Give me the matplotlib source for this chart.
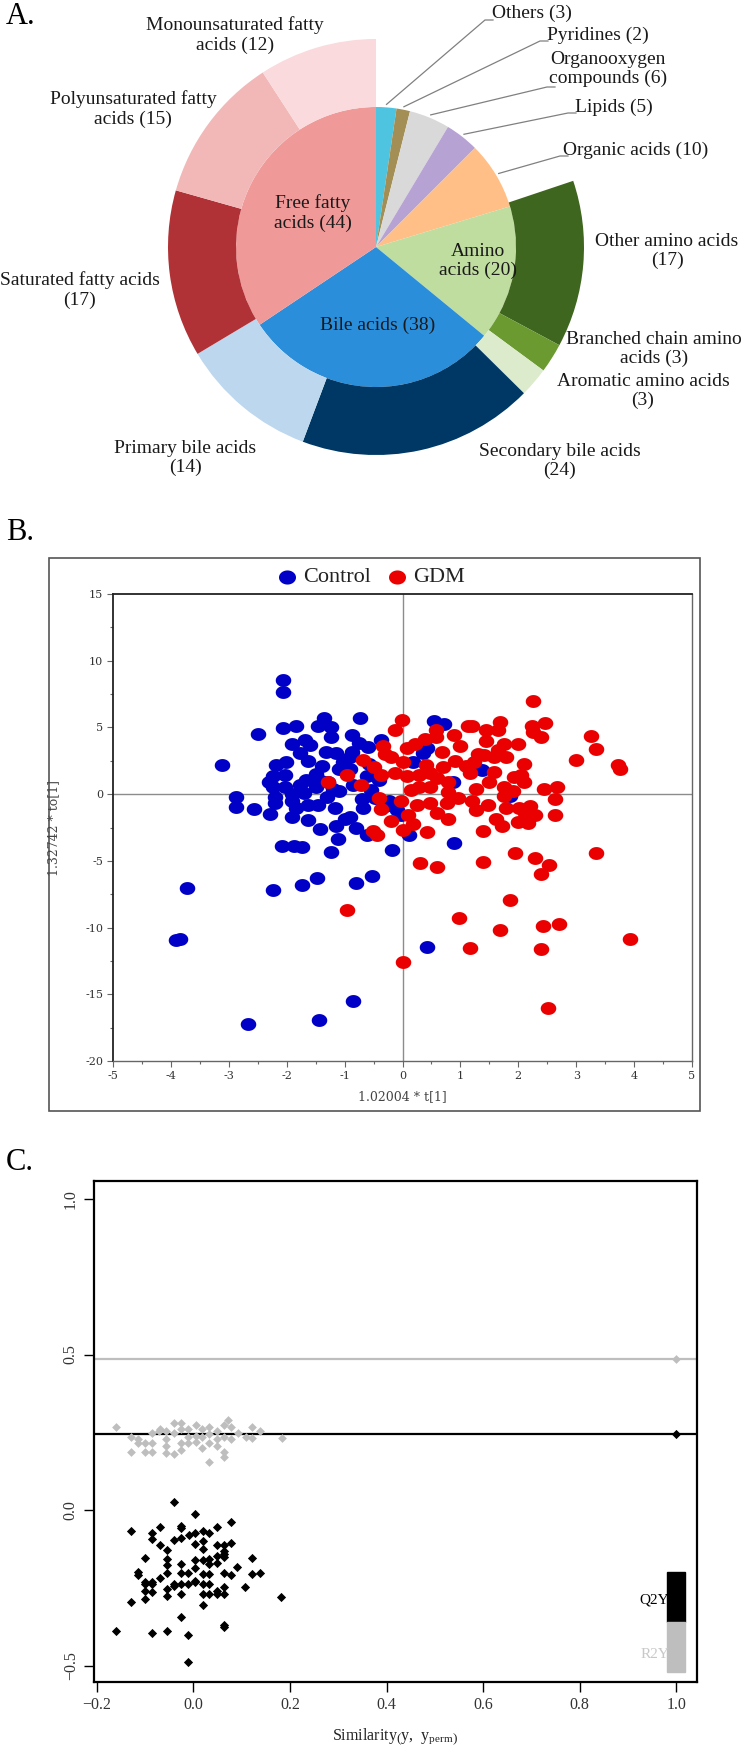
import numpy as np
import matplotlib.pyplot as plt
from matplotlib.patches import Rectangle
from matplotlib.path import Path

plt.rcParams['font.family'] = ['Liberation Serif', 'DejaVu Serif']
plt.rcParams['mathtext.fontset'] = 'custom'
plt.rcParams['mathtext.rm'] = 'Liberation Serif'

W, H = 744, 1750

# ---------------- A. data ----------------
inner_labels = ["Others (3)", "Pyridines (2)", "Organooxygen\ncompounds (6)", "Lipids (5)",
                "Organic acids (10)", "Amino\nacids (20)", "Bile acids (38)", "Free fatty\nacids (44)"]
inner_vals = [3, 2, 6, 5, 10, 20, 38, 44]
inner_colors = ["#4FC4E0", "#A38F55", "#D9D9D9", "#B7A2D4", "#FFBF87", "#C0DDA0", "#2A8EDB", "#EF9A98"]

outer_labels = ["Other amino acids\n(17)", "Branched chain amino\nacids (3)", "Aromatic amino acids\n(3)",
                "Secondary bile acids\n(24)", "Primary bile acids\n(14)", "Saturated fatty acids\n(17)",
                "Polyunsaturated fatty\nacids (15)", "Monounsaturated fatty\nacids (12)"]
outer_vals = [17, 3, 3, 24, 14, 17, 15, 12]
outer_colors = ["#3F661E", "#6A9A30", "#DCEBCB", "#003865", "#BDD7EE", "#B03236", "#F2B8B8", "#FADADC"]

# ---------------- B. data (OPLS-DA scores) ----------------
control_x = [-2.06, -2.06, -0.73, -1.36, -1.46, -1.84, -2.06, -2.49, -3.12, -1.24, -1.24, -0.88, -1.68,
             -1.90, -0.75, -0.37, -1.32, -1.15, -0.88, -1.77, -2.18, -2.01, -1.63, -1.39, -1.02, -0.57,
             0.18, 0.42, 0.55, 0.72, 1.37, -2.24, -2.03, -2.24, -2.03, -1.77, -1.67, -1.49, -1.29, -1.09,
             -0.85, -0.61, -0.40, -2.87, -2.87, -2.57, -2.28, -2.21, -1.90, -1.90, -1.84, -1.63, -1.63,
             -1.46, -1.43, -1.17, -1.15, -1.12, -0.91, -0.68, -0.47, -0.23, -0.03, -0.61, 0.11, -2.08,
             -1.87, -1.74, -1.24, -0.18, 0.89, 1.85, -3.73, -2.23, -1.73, -1.47, -0.81, -0.53, -3.92,
             -3.85, 0.42, -2.67, -1.44, -0.85, -1.50, -1.90, -1.30, -0.90, -0.60, -2.30, -1.00, -0.80,
             -0.55, -0.30, -0.90, -1.60, -2.20, -1.10, -0.10, 0.88, -1.70, -1.20, -0.70, -1.40, 0.36]
control_y = [8.57, 7.67, 5.67, 5.72, 5.11, 5.14, 4.92, 4.52, 2.18, 5.06, 4.26, 4.42, 4.05,
             3.73, 3.86, 4.05, 3.19, 3.06, 3.19, 3.06, 2.18, 2.40, 2.45, 2.13, 2.40, 2.26,
             2.40, 3.46, 5.46, 5.27, 1.81, 1.33, 1.46, 0.53, 0.53, 0.67, 1.06, 0.53, 0.93, 0.27,
             0.67, 1.33, 1.06, -0.21, -0.93, -1.14, -1.46, -0.67, -0.53, -1.73, -1.06, -0.80, -1.94,
             -0.80, -2.61, -1.06, -2.40, -3.33, -1.73, -1.06, -0.27, -0.53, -1.60, -3.06, -3.06, -3.86,
             -3.86, -3.94, -4.31, -4.21, -3.67, -0.13, -7.05, -7.19, -6.81, -6.31, -6.65, -6.12, -10.91,
             -10.88, -11.45, -17.22, -16.90, -15.52, 1.50, 0.00, -0.20, 2.80, 3.50, 0.90, -1.90, -2.50,
             0.30, -0.90, 1.90, 3.70, -0.20, 1.90, -1.20, 0.90, 0.10, 0.40, -0.40, 1.00, 3.10]

gdm_x = [2.26, -0.01, -0.13, 0.57, 0.57, 0.89, 1.13, 1.20, 1.44, 1.68, 1.65, 2.23, 2.46, 2.26, 2.40,
         3.26, 3.34, 3.00, 3.73, 3.76, 1.44, 1.75, 1.99, 2.09, 2.05, 1.92, 1.78, 1.58, 1.58, 1.17,
         1.24, 1.00, 0.69, 0.38, 0.21, 0.08, -0.33, -0.30, -0.68, -1.29, -0.95, -0.71, -0.37, -0.13,
         0.08, 0.28, 0.48, 0.59, 0.79, 0.48, 0.28, 0.79, 1.27, 1.20, 1.75, 1.75, 2.44, 2.67, 2.64,
         1.27, 1.47, 1.78, 2.02, 2.12, 2.29, 2.64, 1.99, 2.16, 1.61, 1.72, 0.79, 0.76, 0.48, 0.25,
         -0.03, -0.40, -0.37, -0.20, 0.18, 0.01, 0.42, -0.51, -0.44, 1.39, 1.95, 2.29, 2.53, 2.40,
         3.34, 1.39, 0.31, 0.60, 1.86, -0.95, 0.98, 1.68, 2.43, 2.70, 3.93, 1.17, 2.40, 0.01, 2.51,
         0.90, 1.30, 0.40, 0.00, -0.20, -0.50, 0.70, 1.10, 1.50, 2.10, 1.90, 2.20, 0.10, 0.60, 1.40,
         1.65, 0.15, 0.95]
gdm_y = [6.97, 5.54, 4.79, 4.84, 4.26, 4.47, 5.11, 5.11, 4.79, 5.38, 4.84, 5.11, 5.32, 4.66, 4.26,
         4.39, 3.41, 2.53, 2.18, 1.86, 3.99, 3.73, 3.73, 2.26, 1.46, 1.28, 2.79, 2.79, 1.65, 1.60,
         2.40, 3.59, 3.19, 4.13, 3.73, 3.46, 3.59, 2.98, 2.53, 0.88, 1.41, 0.67, 1.46, 1.60,
         1.33, 1.46, 1.60, 1.20, 0.93, 0.53, 0.53, 0.13, 0.40, -0.53, 0.53, -0.13, 0.40, 0.53, -0.40,
         -1.20, -0.80, -1.06, -1.06, -1.38, -1.60, -1.60, -2.08, -2.18, -1.86, -2.40, -1.86, -0.67,
         -0.67, -0.80, -0.53, -0.27, -1.14, -2.00, -2.26, -2.66, -2.87, -2.79, -3.06, -2.79, -4.39,
         -4.79, -5.32, -5.99, -4.39, -5.06, -5.19, -5.46, -7.93, -8.70, -9.26, -10.19, -9.85, -9.72,
         -10.83, -11.52, -11.58, -12.56, -16.02, 2.50, 3.00, 2.20, 2.40, 2.80, 2.00, 2.00, 2.10, 0.90,
         0.90, 0.20, -0.90, -1.60, -1.40, 2.90, 3.30, 0.30, -0.30]

b_xticks = [-5, -4, -3, -2, -1, 0, 1, 2, 3, 4, 5]
b_yticks = [-20, -15, -10, -5, 0, 5, 10, 15]

# ---------------- C. data (permutation test) ----------------
q2y_x = [-0.041, 0.003, -0.130, -0.085, -0.085, -0.070, -0.026, -0.026, -0.010, 0.003, 0.019, 0.033,
         0.048, 0.077, -0.041, -0.026, 0.003, 0.019, 0.019, -0.070, -0.055, 0.048, 0.063, 0.077,
         0.063, 0.063, -0.101, -0.055, -0.055, -0.026, 0.003, 0.019, 0.033, 0.033, 0.048, 0.048,
         0.063, 0.122, 0.091, -0.115, -0.115, -0.070, -0.055, -0.026, -0.011, 0.003, 0.019, 0.033,
         0.063, 0.077, 0.122, 0.137, -0.101, -0.085, -0.101, -0.085, -0.041, -0.041, -0.026, -0.012,
         0.003, 0.003, 0.019, 0.033, 0.063, 0.107, -0.101, -0.085, -0.055, -0.055, -0.026, 0.019,
         0.033, 0.048, 0.048, 0.063, 0.181, -0.130, -0.101, 0.019, -0.026, 0.063, 0.063, -0.160,
         -0.085, -0.055, -0.011, -0.011]
q2y_y = [0.025, -0.013, -0.068, -0.074, -0.093, -0.055, -0.052, -0.058, -0.079, -0.074, -0.068, -0.074,
         -0.054, -0.039, -0.095, -0.090, -0.109, -0.100, -0.125, -0.114, -0.127, -0.111, -0.114, -0.107,
         -0.132, -0.143, -0.155, -0.159, -0.178, -0.173, -0.162, -0.162, -0.157, -0.175, -0.148, -0.170,
         -0.150, -0.155, -0.183, -0.199, -0.210, -0.217, -0.201, -0.201, -0.201, -0.186, -0.207, -0.205,
         -0.201, -0.209, -0.207, -0.201, -0.230, -0.230, -0.239, -0.239, -0.237, -0.244, -0.239, -0.237,
         -0.228, -0.233, -0.239, -0.237, -0.246, -0.247, -0.260, -0.265, -0.255, -0.276, -0.269, -0.271,
         -0.271, -0.260, -0.271, -0.271, -0.281, -0.295, -0.287, -0.306, -0.345, -0.370, -0.375, -0.388,
         -0.396, -0.388, -0.402, -0.489]
r2y_x = [-0.160, -0.129, -0.129, -0.115, -0.115, -0.100, -0.100, -0.086, -0.086, -0.086, -0.070, -0.056,
         -0.056, -0.056, -0.056, -0.041, -0.041, -0.041, -0.025, -0.025, -0.025, -0.025, -0.011, -0.011,
         0.005, 0.005, 0.005, 0.018, 0.018, 0.018, 0.033, 0.033, 0.033, 0.033, 0.048, 0.048, 0.048,
         0.063, 0.063, 0.063, 0.063, 0.077, 0.077, 0.093, 0.109, 0.122, 0.122, 0.138, 0.183, 0.072,
         -0.072, -0.012]
r2y_y = [0.268, 0.234, 0.186, 0.227, 0.216, 0.216, 0.186, 0.216, 0.186, 0.247, 0.261, 0.254,
         0.227, 0.207, 0.184, 0.281, 0.247, 0.180, 0.281, 0.261, 0.214, 0.193, 0.234, 0.214,
         0.274, 0.238, 0.220, 0.261, 0.234, 0.200, 0.268, 0.243, 0.216, 0.155, 0.254, 0.227, 0.207,
         0.274, 0.234, 0.186, 0.169, 0.268, 0.227, 0.247, 0.234, 0.268, 0.230, 0.254, 0.230, 0.288,
         0.254, 0.261]
r2y_orig = 0.486
q2y_orig = 0.244
c_xticks = [-0.2, 0.0, 0.2, 0.4, 0.6, 0.8, 1.0]
c_yticks = [-0.5, 0.0, 0.5, 1.0]

fig = plt.figure(figsize=(W / 100, H / 100), dpi=100)

# overlay axes in pixel coords (y down)
ax0 = fig.add_axes([0, 0, 1, 1])
ax0.set_xlim(0, W)
ax0.set_ylim(H, 0)

# ---- A. sunburst ----
cx, cy, r_in, r_out = 376, 247, 140, 208
ax0.pie(inner_vals, colors=inner_colors, radius=r_in, center=(cx, cy), startangle=-90,
        counterclock=True, wedgeprops=dict(linewidth=0))
gap = sum(inner_vals[:5])
ax0.pie([gap] + outer_vals, colors=['none'] + outer_colors, radius=r_out, center=(cx, cy),
        startangle=-90, counterclock=True, wedgeprops=dict(width=r_out - r_in, linewidth=0))
ax0.set_xlim(0, W)
ax0.set_ylim(H, 0)
ax0.set_aspect('auto')
ax0.axis('off')

fs = 14
tc = '#1a1a1a'
# labels inside
ax0.text(313, 213, inner_labels[7], ha='center', va='center', fontsize=fs, color=tc, linespacing=1.15)
ax0.text(378, 325, inner_labels[6], ha='center', va='center', fontsize=fs, color=tc)
ax0.text(478, 261, inner_labels[5], ha='center', va='center', fontsize=fs, color=tc, linespacing=1.15)

# small slices with leader lines
total = sum(inner_vals)
cum = np.cumsum([0] + inner_vals)
txt_pos = [(492, 13, 'left'), (547, 35, 'left'), (608, 69, 'center'), (575, 107, 'left'), (563, 150, 'left')]
line_end = [(485, 20), (540, 41), (547, 87), (568, 113), (560, 156)]
for i in range(5):
    phi = np.deg2rad((cum[i] + inner_vals[i] / 2) / total * 360)
    sx, sy = cx + (r_in + 3) * np.sin(phi), cy - (r_in + 3) * np.cos(phi)
    ex, ey = line_end[i]
    ax0.plot([sx, ex, ex + 8], [sy, ey, ey], color='#808080', lw=0.9)
    tx, ty, ha = txt_pos[i]
    ax0.text(tx, ty, inner_labels[i], ha=ha, va='center', fontsize=fs, color=tc, linespacing=1.15)

outer_pos = [(667, 251), (654, 349), (643, 391), (560, 461), (185, 458), (80, 290), (133, 109), (235, 35)]
for lab, (tx, ty) in zip(outer_labels, outer_pos):
    ax0.text(tx, ty, lab, ha='center', va='center', fontsize=fs, color=tc, linespacing=1.15)

# panel letters
for lab, yy in [("A.", 16), ("B.", 533), ("C.", 1162)]:
    ax0.text(6, yy, lab, ha='left', va='center', fontsize=22, color='black')

# ---- B. outer frame and legend ----
ax0.add_patch(Rectangle((49, 558), 700 - 49, 1111 - 558, fill=False, ec='#555555', lw=1.2))
t = np.linspace(0, 2 * np.pi, 64)
ell = Path(np.column_stack([np.cos(t), 0.83 * np.sin(t)]), closed=True)
blue, red = '#0000C6', '#EA0000'
ax0.scatter([287], [577], marker=ell, s=150, color=blue, linewidths=0)
ax0.text(303, 577, "Control", ha='left', va='center', fontsize=16, color='#222222')
ax0.scatter([397], [577], marker=ell, s=150, color=red, linewidths=0)
ax0.text(413, 577, "GDM", ha='left', va='center', fontsize=16, color='#222222')

# ---- B. scatter ----
axb = fig.add_axes([113 / W, 1 - 1061 / H, (692 - 113) / W, (1061 - 594) / H])
axb.axvline(0, color='#8c8c8c', lw=1, zorder=1)
axb.axhline(0, color='#8c8c8c', lw=1, zorder=1)
axb.scatter(control_x, control_y, marker=ell, s=125, color=blue, linewidths=0, zorder=2)
axb.scatter(gdm_x, gdm_y, marker=ell, s=125, color=red, linewidths=0, zorder=3)
axb.set_xlim(-5, 5)
axb.set_ylim(-20, 15)
axb.set_xticks(b_xticks)
axb.set_xticklabels([str(v) for v in b_xticks])
axb.set_yticks(b_yticks)
axb.set_yticklabels([str(v) for v in b_yticks])
axb.set_xticks(np.arange(-4.5, 5, 1.0), minor=True)
axb.set_yticks(np.arange(-17.5, 15, 5.0), minor=True)
for lab in axb.get_xticklabels() + axb.get_yticklabels():
    lab.set_family('DejaVu Serif')
    lab.set_fontsize(8)
    lab.set_color('#333333')
axb.tick_params(which='major', length=4, width=0.8, color='#666666', pad=3)
axb.tick_params(which='minor', length=2.5, width=0.8, color='#666666')
for side in ['left', 'top']:
    axb.spines[side].set_color('#222222')
    axb.spines[side].set_linewidth(1.3)
for side in ['right', 'bottom']:
    axb.spines[side].set_color('#666666')
    axb.spines[side].set_linewidth(1.0)
axb.set_xlabel("1.02004 * t[1]", fontsize=9, family='DejaVu Serif', color='#444444')
axb.set_ylabel("1.32742 * to[1]", fontsize=9, family='DejaVu Serif', color='#444444')
axb.xaxis.set_label_coords(0.5, -0.062)
axb.yaxis.set_label_coords(-0.092, 0.5)

# ---- C. permutation plot ----
axc = fig.add_axes([94 / W, 1 - 1682 / H, (697 - 94) / W, (1682 - 1181) / H])
axc.axhline(r2y_orig, color='#BEBEBE', lw=1.6, zorder=1)
axc.axhline(q2y_orig, color='black', lw=1.6, zorder=1)
axc.scatter(r2y_x + [1.0], r2y_y + [r2y_orig], marker='D', s=20, color='#BEBEBE', linewidths=0, zorder=2)
axc.scatter(q2y_x + [1.0], q2y_y + [q2y_orig], marker='D', s=22, color='black', linewidths=0, zorder=3)
axc.set_xlim(-0.206, 1.043)
axc.set_ylim(-0.553, 1.058)
axc.set_xticks(c_xticks)
axc.set_xticklabels(["\u22120.2", "0.0", "0.2", "0.4", "0.6", "0.8", "1.0"], fontsize=11.5, color='#333333')
axc.set_yticks(c_yticks)
axc.set_yticklabels(["\u22120.5", "0.0", "0.5", "1.0"], fontsize=11.5, color='#333333',
                    rotation=90, va='center')
axc.tick_params(length=7, width=1.0, pad=4)
for sp in axc.spines.values():
    sp.set_linewidth(1.6)
# Q2Y / R2Y key
axc.add_patch(Rectangle((0.981, -0.360), 0.038, 0.161, color='black', zorder=4))
axc.add_patch(Rectangle((0.981, -0.521), 0.038, 0.161, color='#BEBEBE', zorder=4))
axc.text(0.985, -0.289, "Q2Y", ha='right', va='center', fontsize=11, color='black', zorder=5)
axc.text(0.985, -0.463, "R2Y", ha='right', va='center', fontsize=11, color='#C8C8C8', zorder=5)
axc.set_xlabel(r"Similarity$\left(\mathrm{y},\ \mathrm{y}_{\mathrm{perm}}\right)$", fontsize=11.5, color='#222222')
axc.xaxis.set_label_coords(0.5, -0.088)

fig.savefig("out.png", dpi=100)
